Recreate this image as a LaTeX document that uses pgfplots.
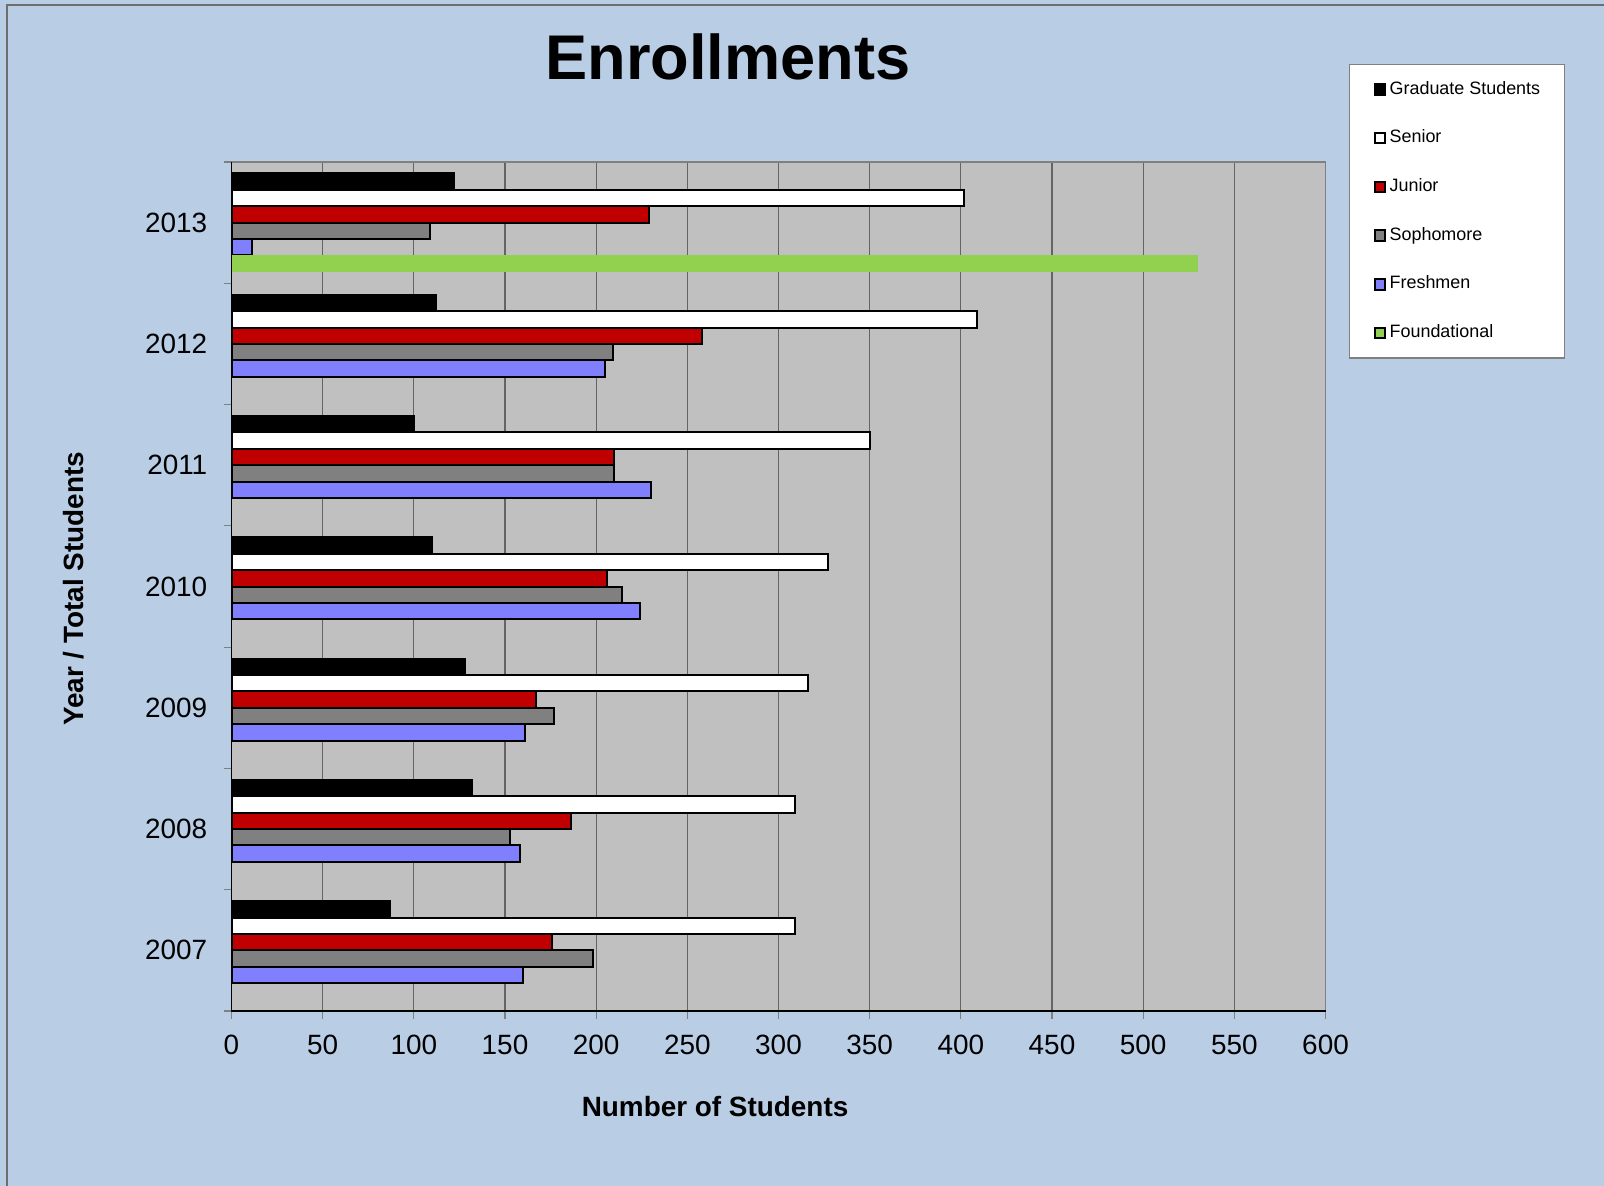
\documentclass[border=0pt]{standalone}
\usepackage{fontspec}
\setmainfont{Liberation Sans}
\usepackage{pgfplots}
\pgfplotsset{compat=1.18}

\definecolor{bgblue}{RGB}{185,205,229}
\definecolor{plotgray}{RGB}{192,192,192}
\definecolor{gridgray}{RGB}{100,100,100}
\definecolor{framegray}{RGB}{110,110,110}
\definecolor{junior}{RGB}{192,0,0}
\definecolor{soph}{RGB}{128,128,128}
\definecolor{fresh}{RGB}{128,128,255}
\definecolor{found}{RGB}{146,208,80}

\begin{document}
\begin{tikzpicture}
\path[use as bounding box, fill=bgblue] (0,0) rectangle (802bp,593bp);
\draw[framegray, line width=1bp] (3.5bp,0) -- (3.5bp,590.5bp) -- (802bp,590.5bp);
\node[font=\bfseries\fontsize{31.7}{38}\selectfont, anchor=base] at (363.9bp,553.1bp) {Enrollments};

\begin{axis}[
    at={(115.75bp,87.5bp)}, anchor=south west,
    scale only axis, width=547bp, height=424.5bp,
    xbar, bar width=8.2bp,
    xmin=0, xmax=600, xtick={0,50,...,600},
    ymin=-0.5, ymax=6.5,
    ytick={-0.5,0.5,...,6.5},
    yticklabels={2007,2008,2009,2010,2011,2012,2013,{}},
    tick pos=left, tick align=outside, major tick length=4bp,
    tick style={draw=gray, line width=0.6bp},
    xmajorgrids, major grid style={draw=gridgray, line width=0.6bp},
    axis background/.style={fill=plotgray},
    axis line style={draw=gray, line width=0.6bp},
    ticklabel style={font=\fontsize{14}{16}\selectfont},
    xticklabel style={yshift=-4.6bp},
    yticklabel style={xshift=-4.6bp, yshift=30.32bp},
    /pgf/number format/assume math mode=true,
    /pgf/number format/1000 sep={},
    xlabel={Number of Students},
    ylabel={Year / Total Students},
    label style={font=\bfseries\fontsize{14}{16}\selectfont},
    xlabel style={at={(rel axis cs:0.442,-0.113)}, anchor=center},
    ylabel style={at={(rel axis cs:-0.1443,0.497)}, anchor=center, rotate=0},
    legend image code/.code={\draw[#1, line width=1bp] (0bp,-2.6bp) rectangle (5.2bp,2.6bp);},
    legend cell align=left,
    legend style={at={(1.0215,1.1154)}, anchor=north west,
        draw=gray, line width=0.6bp, fill=white,
        font=\fontsize{9}{10}\selectfont,
        nodes={inner sep=0pt, text height=6.5bp, text depth=2bp},
        row sep=15.85bp, column sep=1.8bp,
        inner xsep=12bp, inner ysep=8.2bp},
    after end axis/.code={
        \draw[black, line width=0.8bp] (rel axis cs:0,1) -- (rel axis cs:0,0) -- (rel axis cs:1,0);
    },
]
% Graduate Students
\addplot[fill=black, draw=black, line width=1bp, bar shift=20.5bp] coordinates {
    (87,0) (132,1) (128,2) (110,3) (100,4) (112,5) (122,6)};
% Senior
\addplot[fill=white, draw=black, line width=1bp, bar shift=12.3bp] coordinates {
    (309,0) (309,1) (316,2) (327,3) (350,4) (409,5) (402,6)};
% Junior
\addplot[fill=junior, draw=black, line width=1bp, bar shift=4.1bp] coordinates {
    (176,0) (186,1) (167,2) (206,3) (210,4) (258,5) (229,6)};
% Sophomore
\addplot[fill=soph, draw=black, line width=1bp, bar shift=-4.1bp] coordinates {
    (198,0) (153,1) (177,2) (214,3) (210,4) (209,5) (109,6)};
% Freshmen
\addplot[fill=fresh, draw=black, line width=1bp, bar shift=-12.3bp] coordinates {
    (160,0) (158,1) (161,2) (224,3) (230,4) (205,5) (11,6)};
% Foundational
\addplot[fill=found, draw=none, bar shift=-20.5bp] coordinates {
    (530,6)};
\legend{Graduate Students, Senior, Junior, Sophomore, Freshmen, Foundational}
\end{axis}
\end{tikzpicture}
\end{document}
